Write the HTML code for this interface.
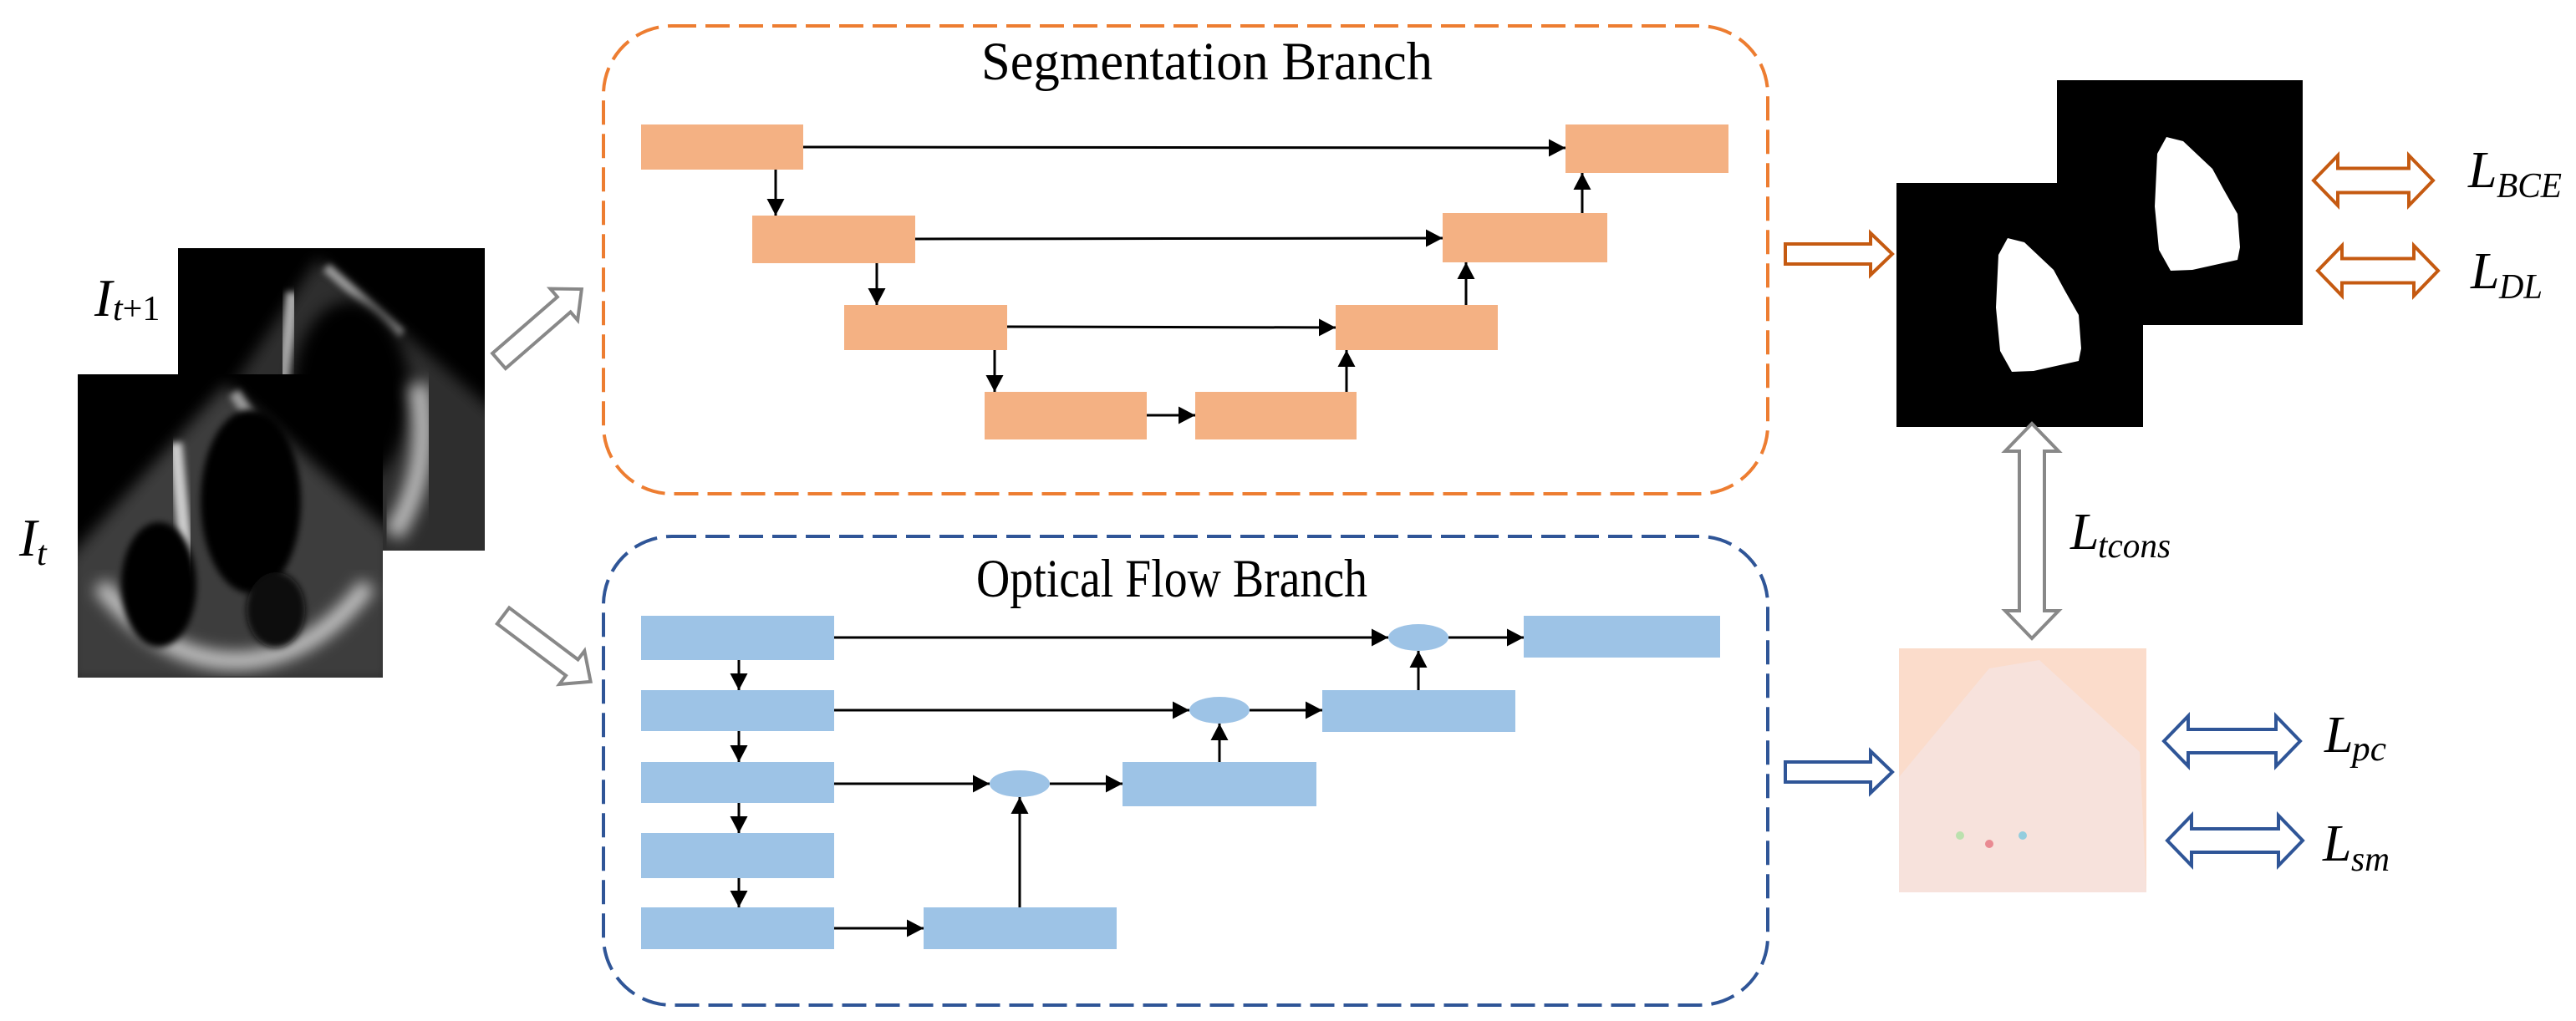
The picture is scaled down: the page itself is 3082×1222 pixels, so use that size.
<!DOCTYPE html>
<html><head><meta charset="utf-8"><style>
html,body{margin:0;padding:0;background:#fff;}
svg{display:block;}
svg text{font-family:"Liberation Serif","DejaVu Serif",serif;}
</style></head><body>
<svg width="3082" height="1222" viewBox="0 0 3082 1222" xmlns="http://www.w3.org/2000/svg">
<defs>
<marker id="ah" markerWidth="20" markerHeight="21" refX="20" refY="10.5" orient="auto" markerUnits="userSpaceOnUse">
<path d="M0,0 L20,10.5 L0,21 Z" fill="#000"/></marker>
<filter id="bl" x="-20%" y="-20%" width="140%" height="140%"><feGaussianBlur stdDeviation="9"/></filter>
<filter id="bl2" x="-20%" y="-20%" width="140%" height="140%"><feGaussianBlur stdDeviation="4"/></filter>
<clipPath id="cb"><rect x="213" y="297" width="367" height="362"/></clipPath>
<clipPath id="cf"><rect x="93" y="448" width="365" height="363"/></clipPath>
</defs>

<rect x="213" y="297" width="367" height="362" fill="#000"/>
<g clip-path="url(#cb)">
<polygon points="380,310 600,500 600,680 213,680 213,560" fill="#555" opacity="0.55" filter="url(#bl)"/>
<path d="M390,320 L480,400" stroke="#999" stroke-width="12" filter="url(#bl2)"/>
<path d="M350,350 L340,460" stroke="#aaa" stroke-width="16" filter="url(#bl2)"/>
<ellipse cx="420" cy="470" rx="70" ry="110" fill="#000" filter="url(#bl)"/>
<path d="M500,460 Q520,560 470,640" stroke="#bbb" stroke-width="24" fill="none" filter="url(#bl)"/>
</g>
<rect x="93" y="448" width="365" height="363" fill="#000"/>
<g clip-path="url(#cf)">
<polygon points="270,460 470,640 470,820 80,820 80,670" fill="#666" opacity="0.6" filter="url(#bl)"/>
<path d="M120,700 Q200,800 300,790 Q380,780 440,700" stroke="#ccc" stroke-width="20" fill="none" filter="url(#bl)"/>
<path d="M210,530 L225,690" stroke="#ccc" stroke-width="16" filter="url(#bl2)"/>
<path d="M280,470 L340,560" stroke="#999" stroke-width="14" filter="url(#bl2)"/>
<ellipse cx="190" cy="700" rx="45" ry="75" fill="#000" filter="url(#bl2)"/>
<ellipse cx="300" cy="600" rx="60" ry="110" fill="#000" filter="url(#bl2)"/>
<ellipse cx="330" cy="730" rx="35" ry="45" fill="#111" filter="url(#bl2)"/>
</g>

<text x="113" y="378" font-size="64" font-style="italic">I</text>
<text x="135" y="383" font-size="42"><tspan font-style="italic">t</tspan>+1</text>
<text x="23" y="665" font-size="64" font-style="italic">I</text>
<text x="44" y="676" font-size="42" font-style="italic">t</text>

<g fill="#fff" stroke="#888" stroke-width="4" stroke-linejoin="miter">
<polygon transform="translate(597,432) rotate(-41)" points="0,-12 103,-12 103,-25 131,0 103,25 103,12 0,12"/>
<polygon transform="translate(602,737) rotate(37)" points="0,-12 103,-12 103,-25 131,0 103,25 103,12 0,12"/>
</g>

<rect x="722" y="31" width="1393" height="560" rx="82" ry="82" fill="none" stroke="#ED7D31" stroke-width="4" stroke-dasharray="29 11"/>
<rect x="722" y="642" width="1393" height="561" rx="82" ry="82" fill="none" stroke="#2F5597" stroke-width="4" stroke-dasharray="29 11"/>

<text x="1174" y="95" font-size="65" textLength="540" lengthAdjust="spacingAndGlyphs">Segmentation Branch</text>
<text x="1168" y="714" font-size="65" textLength="468" lengthAdjust="spacingAndGlyphs">Optical Flow Branch</text>

<g fill="#F4B183">
<rect x="767" y="149" width="194" height="54"/>
<rect x="900" y="258" width="195" height="57"/>
<rect x="1010" y="365" width="195" height="54"/>
<rect x="1178" y="469" width="194" height="57"/>
<rect x="1430" y="469" width="193" height="57"/>
<rect x="1598" y="365" width="194" height="54"/>
<rect x="1726" y="255" width="197" height="59"/>
<rect x="1873" y="149" width="195" height="58"/>
</g>
<g stroke="#000" stroke-width="3" fill="none" marker-end="url(#ah)">
<line x1="961" y1="176" x2="1873" y2="177"/>
<line x1="1095" y1="286" x2="1726" y2="285"/>
<line x1="1205" y1="391" x2="1598" y2="392"/>
<line x1="1372" y1="497" x2="1430" y2="497"/>
<line x1="928" y1="203" x2="928" y2="258"/>
<line x1="1049" y1="315" x2="1049" y2="365"/>
<line x1="1190" y1="419" x2="1190" y2="469"/>
<line x1="1611" y1="469" x2="1611" y2="419"/>
<line x1="1754" y1="365" x2="1754" y2="314"/>
<line x1="1893" y1="255" x2="1893" y2="207"/>
</g>

<g fill="#9DC3E6">
<rect x="767" y="737" width="231" height="53"/>
<rect x="767" y="826" width="231" height="49"/>
<rect x="767" y="912" width="231" height="49"/>
<rect x="767" y="997" width="231" height="54"/>
<rect x="767" y="1086" width="231" height="50"/>
<rect x="1105" y="1086" width="231" height="50"/>
<rect x="1343" y="912" width="232" height="53"/>
<rect x="1582" y="826" width="231" height="50"/>
<rect x="1823" y="737" width="235" height="50"/>
<ellipse cx="1220" cy="938" rx="36" ry="16"/>
<ellipse cx="1459" cy="850" rx="36" ry="16"/>
<ellipse cx="1697" cy="763" rx="36" ry="16"/>
</g>
<g stroke="#000" stroke-width="3" fill="none" marker-end="url(#ah)">
<line x1="998" y1="763" x2="1661" y2="763"/>
<line x1="1733" y1="763" x2="1823" y2="763"/>
<line x1="998" y1="850" x2="1423" y2="850"/>
<line x1="1495" y1="850" x2="1582" y2="850"/>
<line x1="998" y1="938" x2="1184" y2="938"/>
<line x1="1256" y1="938" x2="1343" y2="938"/>
<line x1="998" y1="1111" x2="1105" y2="1111"/>
<line x1="1220" y1="1086" x2="1220" y2="954"/>
<line x1="1459" y1="912" x2="1459" y2="866"/>
<line x1="1697" y1="826" x2="1697" y2="779"/>
<line x1="884" y1="790" x2="884" y2="826"/>
<line x1="884" y1="875" x2="884" y2="912"/>
<line x1="884" y1="961" x2="884" y2="997"/>
<line x1="884" y1="1051" x2="884" y2="1086"/>
</g>

<polygon points="2136,292 2238,292 2238,279 2264,304 2238,329 2238,316 2136,316" fill="#fff" stroke="#C55A11" stroke-width="4"/>
<polygon points="2136,912 2238,912 2238,899 2264,924 2238,949 2238,936 2136,936" fill="#fff" stroke="#2F5597" stroke-width="4"/>

<rect x="2461" y="96" width="294" height="293" fill="#000"/>
<polygon transform="translate(190,-121)" points="2402,285 2422,290 2457,323 2470,347 2487,377 2490,417 2487,432 2433,444 2407,445 2393,420 2388,368 2391,305" fill="#fff"/>
<rect x="2269" y="219" width="295" height="292" fill="#000"/>
<polygon points="2402,285 2422,290 2457,323 2470,347 2487,377 2490,417 2487,432 2433,444 2407,445 2393,420 2388,368 2391,305" fill="#fff"/>

<rect x="2272" y="776" width="296" height="292" fill="#FBDCCB"/>
<polygon points="2272,930 2380,800 2440,790 2560,900 2568,1068 2272,1068" fill="#F6E2DE" opacity="0.9"/>
<circle cx="2380" cy="1010" r="5" fill="#e05060" opacity="0.6"/>
<circle cx="2420" cy="1000" r="5" fill="#50c0e0" opacity="0.6"/>
<circle cx="2345" cy="1000" r="5" fill="#80e080" opacity="0.5"/>

<polygon points="2431,507 2463,540 2446,540 2446,731 2463,731 2431,764 2399,731 2416,731 2416,540 2399,540" fill="#fff" stroke="#888" stroke-width="4"/>
<text x="2477" y="657" font-size="62" font-style="italic">L</text>
<text x="2510" y="667" font-size="42" font-style="italic" textLength="87" lengthAdjust="spacingAndGlyphs">tcons</text>

<g fill="#fff" stroke-width="4">
<polygon stroke="#C55A11" points="2768,216 2797,186 2797,201.5 2882,201.5 2882,186 2911,216 2882,246 2882,230.5 2797,230.5 2797,246"/>
<polygon stroke="#C55A11" points="2773,324 2802,294 2802,309.5 2888,309.5 2888,294 2917,324 2888,354 2888,338.5 2802,338.5 2802,354"/>
<polygon stroke="#2F5597" points="2589,887 2618,857 2618,873 2723,873 2723,857 2752,887 2723,917 2723,901 2618,901 2618,917"/>
<polygon stroke="#2F5597" points="2593,1006 2622,976 2622,992 2726,992 2726,976 2755,1006 2726,1036 2726,1020 2622,1020 2622,1036"/>
</g>
<text x="2953" y="224" font-size="62" font-style="italic">L</text>
<text x="2987" y="236" font-size="42" font-style="italic" textLength="78" lengthAdjust="spacingAndGlyphs">BCE</text>
<text x="2956" y="345" font-size="62" font-style="italic">L</text>
<text x="2990" y="357" font-size="42" font-style="italic" textLength="52" lengthAdjust="spacingAndGlyphs">DL</text>
<text x="2781" y="900" font-size="62" font-style="italic">L</text>
<text x="2814" y="910" font-size="42" font-style="italic" textLength="41" lengthAdjust="spacingAndGlyphs">pc</text>
<text x="2779" y="1030" font-size="62" font-style="italic">L</text>
<text x="2813" y="1042" font-size="42" font-style="italic" textLength="46" lengthAdjust="spacingAndGlyphs">sm</text>
</svg>
</body></html>
